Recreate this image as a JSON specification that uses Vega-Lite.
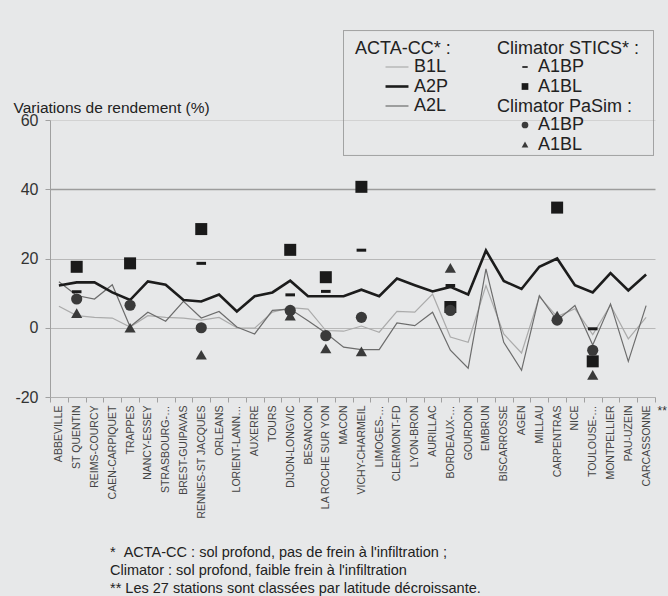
{
  "$schema": "https://vega.github.io/schema/vega-lite/v6.json",
  "width": 605,
  "height": 277,
  "autosize": {"type": "none"},
  "padding": {"left": 50, "top": 120, "right": 13, "bottom": 199},
  "background": "#e7e8e9",
  "config": {
    "view": {"stroke": null},
    "font": "Liberation Sans",
    "legend": {
      "orient": "none",
      "padding": 0,
      "titleFont": "Liberation Sans",
      "titleFontSize": 18,
      "titleFontWeight": "normal",
      "titleColor": "#222222",
      "titlePadding": 0,
      "labelFont": "Liberation Sans",
      "labelFontSize": 18,
      "labelColor": "#222222",
      "rowPadding": 1.5
    }
  },
  "title": {
    "text": [
      "*\u00a0\u00a0ACTA-CC : sol profond, pas de frein à l'infiltration ;",
      "\u00a0\u00a0\u00a0\u00a0Climator : sol profond, faible frein à l'infiltration",
      "** Les 27 stations sont classées par latitude décroissante."
    ],
    "orient": "bottom",
    "anchor": "start",
    "align": "left",
    "dx": 97,
    "offset": 28,
    "font": "Liberation Sans",
    "fontSize": 14.5,
    "fontWeight": "normal",
    "color": "#222222",
    "lineHeight": 18
  },
  "datasets": {
    "lines": [
      {"station": "ABBEVILLE", "series": "B1L", "value": 6.2},
      {"station": "ST QUENTIN", "series": "B1L", "value": 3.5},
      {"station": "REIMS-COURCY", "series": "B1L", "value": 3.0},
      {"station": "CAEN-CARPIQUET", "series": "B1L", "value": 2.8},
      {"station": "TRAPPES", "series": "B1L", "value": 0.2},
      {"station": "NANCY-ESSEY", "series": "B1L", "value": 3.5},
      {"station": "STRASBOURG-…", "series": "B1L", "value": 3.0},
      {"station": "BREST-GUIPAVAS", "series": "B1L", "value": 2.8},
      {"station": "RENNES-ST JACQUES", "series": "B1L", "value": 2.2},
      {"station": "ORLEANS", "series": "B1L", "value": 3.0},
      {"station": "LORIENT-LANN…", "series": "B1L", "value": 0.0},
      {"station": "AUXERRE", "series": "B1L", "value": -0.1},
      {"station": "TOURS", "series": "B1L", "value": 4.5},
      {"station": "DIJON-LONGVIC", "series": "B1L", "value": 5.8},
      {"station": "BESANCON", "series": "B1L", "value": 5.4},
      {"station": "LA ROCHE SUR YON", "series": "B1L", "value": -0.8},
      {"station": "MACON", "series": "B1L", "value": -1.0},
      {"station": "VICHY-CHARMEIL", "series": "B1L", "value": 0.5},
      {"station": "LIMOGES-…", "series": "B1L", "value": -1.3},
      {"station": "CLERMONT-FD", "series": "B1L", "value": 4.7},
      {"station": "LYON-BRON", "series": "B1L", "value": 4.5},
      {"station": "AURILLAC", "series": "B1L", "value": 9.7},
      {"station": "BORDEAUX-…", "series": "B1L", "value": -2.7},
      {"station": "GOURDON", "series": "B1L", "value": -4.2},
      {"station": "EMBRUN", "series": "B1L", "value": 12.2},
      {"station": "BISCARROSSE", "series": "B1L", "value": -1.8},
      {"station": "AGEN", "series": "B1L", "value": -7.3},
      {"station": "MILLAU", "series": "B1L", "value": 9.0},
      {"station": "CARPENTRAS", "series": "B1L", "value": 3.2},
      {"station": "NICE", "series": "B1L", "value": 5.5},
      {"station": "TOULOUSE-…", "series": "B1L", "value": -2.0},
      {"station": "MONTPELLIER", "series": "B1L", "value": 6.5},
      {"station": "PAU-UZEIN", "series": "B1L", "value": -3.2},
      {"station": "CARCASSONNE", "series": "B1L", "value": 3.0},
      {"station": "ABBEVILLE", "series": "A2L", "value": 13.3},
      {"station": "ST QUENTIN", "series": "A2L", "value": 9.3},
      {"station": "REIMS-COURCY", "series": "A2L", "value": 8.3},
      {"station": "CAEN-CARPIQUET", "series": "A2L", "value": 12.4},
      {"station": "TRAPPES", "series": "A2L", "value": 0.3},
      {"station": "NANCY-ESSEY", "series": "A2L", "value": 4.5},
      {"station": "STRASBOURG-…", "series": "A2L", "value": 1.9},
      {"station": "BREST-GUIPAVAS", "series": "A2L", "value": 7.6},
      {"station": "RENNES-ST JACQUES", "series": "A2L", "value": 2.8},
      {"station": "ORLEANS", "series": "A2L", "value": 4.7},
      {"station": "LORIENT-LANN…", "series": "A2L", "value": 0.2},
      {"station": "AUXERRE", "series": "A2L", "value": -1.8},
      {"station": "TOURS", "series": "A2L", "value": 5.0},
      {"station": "DIJON-LONGVIC", "series": "A2L", "value": 5.4},
      {"station": "BESANCON", "series": "A2L", "value": 2.0},
      {"station": "LA ROCHE SUR YON", "series": "A2L", "value": -1.5},
      {"station": "MACON", "series": "A2L", "value": -5.6},
      {"station": "VICHY-CHARMEIL", "series": "A2L", "value": -6.3},
      {"station": "LIMOGES-…", "series": "A2L", "value": -6.3},
      {"station": "CLERMONT-FD", "series": "A2L", "value": 1.4},
      {"station": "LYON-BRON", "series": "A2L", "value": 0.6},
      {"station": "AURILLAC", "series": "A2L", "value": 4.5},
      {"station": "BORDEAUX-…", "series": "A2L", "value": -6.5},
      {"station": "GOURDON", "series": "A2L", "value": -11.7},
      {"station": "EMBRUN", "series": "A2L", "value": 17.0},
      {"station": "BISCARROSSE", "series": "A2L", "value": -4.2},
      {"station": "AGEN", "series": "A2L", "value": -12.3},
      {"station": "MILLAU", "series": "A2L", "value": 9.3},
      {"station": "CARPENTRAS", "series": "A2L", "value": 2.1},
      {"station": "NICE", "series": "A2L", "value": 6.4},
      {"station": "TOULOUSE-…", "series": "A2L", "value": -5.0},
      {"station": "MONTPELLIER", "series": "A2L", "value": 6.9},
      {"station": "PAU-UZEIN", "series": "A2L", "value": -9.7},
      {"station": "CARCASSONNE", "series": "A2L", "value": 6.4},
      {"station": "ABBEVILLE", "series": "A2P", "value": 12.2},
      {"station": "ST QUENTIN", "series": "A2P", "value": 13.1},
      {"station": "REIMS-COURCY", "series": "A2P", "value": 13.1},
      {"station": "CAEN-CARPIQUET", "series": "A2P", "value": 10.2},
      {"station": "TRAPPES", "series": "A2P", "value": 8.0},
      {"station": "NANCY-ESSEY", "series": "A2P", "value": 13.4},
      {"station": "STRASBOURG-…", "series": "A2P", "value": 12.4},
      {"station": "BREST-GUIPAVAS", "series": "A2P", "value": 8.0},
      {"station": "RENNES-ST JACQUES", "series": "A2P", "value": 7.6},
      {"station": "ORLEANS", "series": "A2P", "value": 9.6},
      {"station": "LORIENT-LANN…", "series": "A2P", "value": 4.7},
      {"station": "AUXERRE", "series": "A2P", "value": 9.1},
      {"station": "TOURS", "series": "A2P", "value": 10.2},
      {"station": "DIJON-LONGVIC", "series": "A2P", "value": 13.6},
      {"station": "BESANCON", "series": "A2P", "value": 9.1},
      {"station": "LA ROCHE SUR YON", "series": "A2P", "value": 9.1},
      {"station": "MACON", "series": "A2P", "value": 9.1},
      {"station": "VICHY-CHARMEIL", "series": "A2P", "value": 11.0},
      {"station": "LIMOGES-…", "series": "A2P", "value": 9.1},
      {"station": "CLERMONT-FD", "series": "A2P", "value": 14.2},
      {"station": "LYON-BRON", "series": "A2P", "value": 12.3},
      {"station": "AURILLAC", "series": "A2P", "value": 10.5},
      {"station": "BORDEAUX-…", "series": "A2P", "value": 11.8},
      {"station": "GOURDON", "series": "A2P", "value": 9.6},
      {"station": "EMBRUN", "series": "A2P", "value": 22.3},
      {"station": "BISCARROSSE", "series": "A2P", "value": 13.5},
      {"station": "AGEN", "series": "A2P", "value": 11.2},
      {"station": "MILLAU", "series": "A2P", "value": 17.6},
      {"station": "CARPENTRAS", "series": "A2P", "value": 20.0},
      {"station": "NICE", "series": "A2P", "value": 12.3},
      {"station": "TOULOUSE-…", "series": "A2P", "value": 10.2},
      {"station": "MONTPELLIER", "series": "A2P", "value": 15.8},
      {"station": "PAU-UZEIN", "series": "A2P", "value": 10.8},
      {"station": "CARCASSONNE", "series": "A2P", "value": 15.4}
    ],
    "stics": [
      {"station": "ST QUENTIN", "model": "Climator STICS", "scenario": "A1BP", "value": 10.4},
      {"station": "RENNES-ST JACQUES", "model": "Climator STICS", "scenario": "A1BP", "value": 18.6},
      {"station": "DIJON-LONGVIC", "model": "Climator STICS", "scenario": "A1BP", "value": 9.5},
      {"station": "LA ROCHE SUR YON", "model": "Climator STICS", "scenario": "A1BP", "value": 10.5},
      {"station": "VICHY-CHARMEIL", "model": "Climator STICS", "scenario": "A1BP", "value": 22.4},
      {"station": "BORDEAUX-…", "model": "Climator STICS", "scenario": "A1BP", "value": 12.2},
      {"station": "TOULOUSE-…", "model": "Climator STICS", "scenario": "A1BP", "value": -0.3},
      {"station": "ST QUENTIN", "model": "Climator STICS", "scenario": "A1BL", "value": 17.6},
      {"station": "TRAPPES", "model": "Climator STICS", "scenario": "A1BL", "value": 18.6},
      {"station": "RENNES-ST JACQUES", "model": "Climator STICS", "scenario": "A1BL", "value": 28.5},
      {"station": "DIJON-LONGVIC", "model": "Climator STICS", "scenario": "A1BL", "value": 22.5},
      {"station": "LA ROCHE SUR YON", "model": "Climator STICS", "scenario": "A1BL", "value": 14.6},
      {"station": "VICHY-CHARMEIL", "model": "Climator STICS", "scenario": "A1BL", "value": 40.7},
      {"station": "BORDEAUX-…", "model": "Climator STICS", "scenario": "A1BL", "value": 6.0},
      {"station": "CARPENTRAS", "model": "Climator STICS", "scenario": "A1BL", "value": 34.7},
      {"station": "TOULOUSE-…", "model": "Climator STICS", "scenario": "A1BL", "value": -9.7}
    ],
    "pasim": [
      {"station": "ST QUENTIN", "model": "Climator PaSim", "scenario": "A1BP", "value": 8.3},
      {"station": "TRAPPES", "model": "Climator PaSim", "scenario": "A1BP", "value": 6.5},
      {"station": "RENNES-ST JACQUES", "model": "Climator PaSim", "scenario": "A1BP", "value": 0.0},
      {"station": "DIJON-LONGVIC", "model": "Climator PaSim", "scenario": "A1BP", "value": 5.0},
      {"station": "LA ROCHE SUR YON", "model": "Climator PaSim", "scenario": "A1BP", "value": -2.3},
      {"station": "VICHY-CHARMEIL", "model": "Climator PaSim", "scenario": "A1BP", "value": 3.0},
      {"station": "BORDEAUX-…", "model": "Climator PaSim", "scenario": "A1BP", "value": 5.0},
      {"station": "CARPENTRAS", "model": "Climator PaSim", "scenario": "A1BP", "value": 2.2},
      {"station": "TOULOUSE-…", "model": "Climator PaSim", "scenario": "A1BP", "value": -6.5},
      {"station": "ST QUENTIN", "model": "Climator PaSim", "scenario": "A1BL", "value": 4.2},
      {"station": "TRAPPES", "model": "Climator PaSim", "scenario": "A1BL", "value": 0.0},
      {"station": "RENNES-ST JACQUES", "model": "Climator PaSim", "scenario": "A1BL", "value": -7.8},
      {"station": "DIJON-LONGVIC", "model": "Climator PaSim", "scenario": "A1BL", "value": 3.5},
      {"station": "LA ROCHE SUR YON", "model": "Climator PaSim", "scenario": "A1BL", "value": -6.0},
      {"station": "VICHY-CHARMEIL", "model": "Climator PaSim", "scenario": "A1BL", "value": -6.8},
      {"station": "BORDEAUX-…", "model": "Climator PaSim", "scenario": "A1BL", "value": 17.3},
      {"station": "CARPENTRAS", "model": "Climator PaSim", "scenario": "A1BL", "value": 3.5},
      {"station": "TOULOUSE-…", "model": "Climator PaSim", "scenario": "A1BL", "value": -13.6}
    ]
  },
  "encoding": {
    "x": {
      "field": "station",
      "type": "nominal",
      "sort": null,
      "scale": {
        "type": "band",
        "paddingInner": 0,
        "paddingOuter": 0,
        "domain": ["ABBEVILLE", "ST QUENTIN", "REIMS-COURCY", "CAEN-CARPIQUET", "TRAPPES", "NANCY-ESSEY", "STRASBOURG-…", "BREST-GUIPAVAS", "RENNES-ST JACQUES", "ORLEANS", "LORIENT-LANN…", "AUXERRE", "TOURS", "DIJON-LONGVIC", "BESANCON", "LA ROCHE SUR YON", "MACON", "VICHY-CHARMEIL", "LIMOGES-…", "CLERMONT-FD", "LYON-BRON", "AURILLAC", "BORDEAUX-…", "GOURDON", "EMBRUN", "BISCARROSSE", "AGEN", "MILLAU", "CARPENTRAS", "NICE", "TOULOUSE-…", "MONTPELLIER", "PAU-UZEIN", "CARCASSONNE"]
      },
      "axis": {
        "title": "**",
        "titleAngle": 0,
        "titleX": 607,
        "titleY": 13,
        "titleAlign": "left",
        "titleBaseline": "middle",
        "titleFont": "Liberation Sans",
        "titleFontSize": 12,
        "titleFontWeight": "normal",
        "titleColor": "#333333",
        "labelAngle": -90,
        "labelAlign": "right",
        "labelBaseline": "middle",
        "labelFont": "Liberation Sans",
        "labelFontSize": 10.5,
        "labelColor": "#444444",
        "labelPadding": 3,
        "labelOverlap": false,
        "labelLimit": 0,
        "tickBand": "extent",
        "tickSize": 5,
        "tickColor": "#a0a0a0",
        "domainColor": "#b0b0b0",
        "grid": false
      }
    },
    "y": {
      "field": "value",
      "type": "quantitative",
      "scale": {"domain": [-20, 60], "nice": false, "zero": false},
      "axis": {
        "title": "Variations de rendement (%)",
        "titleAngle": 0,
        "titleAlign": "left",
        "titleBaseline": "middle",
        "titleX": -37,
        "titleY": -13,
        "titleFont": "Liberation Sans",
        "titleFontSize": 15.5,
        "titleFontWeight": "normal",
        "titleColor": "#222222",
        "values": [-20, 0, 20, 40, 60],
        "labelExpr": "'' + datum.value",
        "labelFont": "Liberation Sans",
        "labelFontSize": 16,
        "labelColor": "#333333",
        "labelPadding": 7,
        "tickSize": 5,
        "tickColor": "#a0a0a0",
        "domainColor": "#a0a0a0",
        "grid": true,
        "gridColor": {
          "condition": [
            {"test": "datum.value === 40", "value": "#9c9c9c"},
            {"test": "datum.value === 60", "value": "#d2d2d2"}
          ],
          "value": "#b8b8b8"
        },
        "gridWidth": {"condition": {"test": "datum.value === 40", "value": 1.6}, "value": 1}
      }
    }
  },
  "layer": [
    {
      "data": {"name": "lines"},
      "mark": {"type": "line"},
      "encoding": {
        "color": {
          "field": "series",
          "type": "nominal",
          "scale": {"domain": ["B1L", "A2P", "A2L"], "range": ["#ababab", "#1c1c1c", "#6c6c6c"]},
          "legend": {
            "title": "ACTA-CC* :",
            "legendX": 305,
            "legendY": -80,
            "symbolType": "M-1.35,0H1.35",
            "symbolSize": 289,
            "symbolOffset": 33,
            "labelOffset": 8,
            "encode": {
              "symbols": {
                "update": {
                  "fill": {"value": "transparent"},
                  "strokeWidth": {"signal": "datum.value === 'A2P' ? 2.6 : 1.2"}
                }
              }
            }
          }
        },
        "strokeWidth": {
          "condition": {"test": "datum.series === 'A2P'", "value": 2.6},
          "value": 1.2
        }
      }
    },
    {
      "mark": {"type": "rule", "color": "#111111", "strokeWidth": 3},
      "encoding": {"x": null, "y": {"datum": 0, "type": "quantitative"}}
    },
    {
      "data": {"name": "stics"},
      "mark": {"type": "point", "filled": false, "size": 0, "color": "#8c8c8c", "strokeWidth": 1, "opacity": 1},
      "encoding": {
        "strokeDash": {
          "field": "model",
          "type": "nominal",
          "scale": {"range": [[1, 0]]},
          "legend": {
            "title": null,
            "legendX": 293,
            "legendY": -182.5,
            "symbolType": "M-1,-0.403H1M1,-0.403V0.403M1,0.403H-1M-1,0.403V-0.403",
            "symbolSize": 96100,
            "symbolStrokeColor": "#8c8c8c",
            "symbolStrokeWidth": 1,
            "symbolFillColor": "transparent",
            "labelExpr": "''"
          }
        }
      }
    },
    {
      "data": {"name": "stics"},
      "mark": {"type": "point", "filled": true, "color": "#1a1a1a", "opacity": 1, "size": 144},
      "encoding": {
        "shape": {
          "field": "scenario",
          "type": "nominal",
          "scale": {"domain": ["A1BP", "A1BL"], "range": ["M-0.8,-0.25H0.8V0.25H-0.8Z", "square"]},
          "legend": {
            "title": "Climator STICS* :",
            "legendX": 447,
            "legendY": -80,
            "symbolSize": 45,
            "symbolFillColor": "#1a1a1a",
            "symbolStrokeWidth": 0,
            "symbolOffset": 19,
            "labelOffset": 4
          }
        }
      }
    },
    {
      "data": {"name": "pasim"},
      "mark": {"type": "point", "filled": true, "color": "#3a3a3a", "opacity": 1, "size": 125},
      "encoding": {
        "shape": {
          "field": "scenario",
          "type": "nominal",
          "scale": {"domain": ["A1BP", "A1BL"], "range": ["circle", "triangle-up"]},
          "legend": {
            "title": "Climator PaSim :",
            "legendX": 447,
            "legendY": -22,
            "symbolSize": 45,
            "symbolFillColor": "#3a3a3a",
            "symbolStrokeWidth": 0,
            "symbolOffset": 19,
            "labelOffset": 4
          }
        }
      }
    }
  ],
  "resolve": {"scale": {"shape": "independent"}, "legend": {"shape": "independent"}}
}
